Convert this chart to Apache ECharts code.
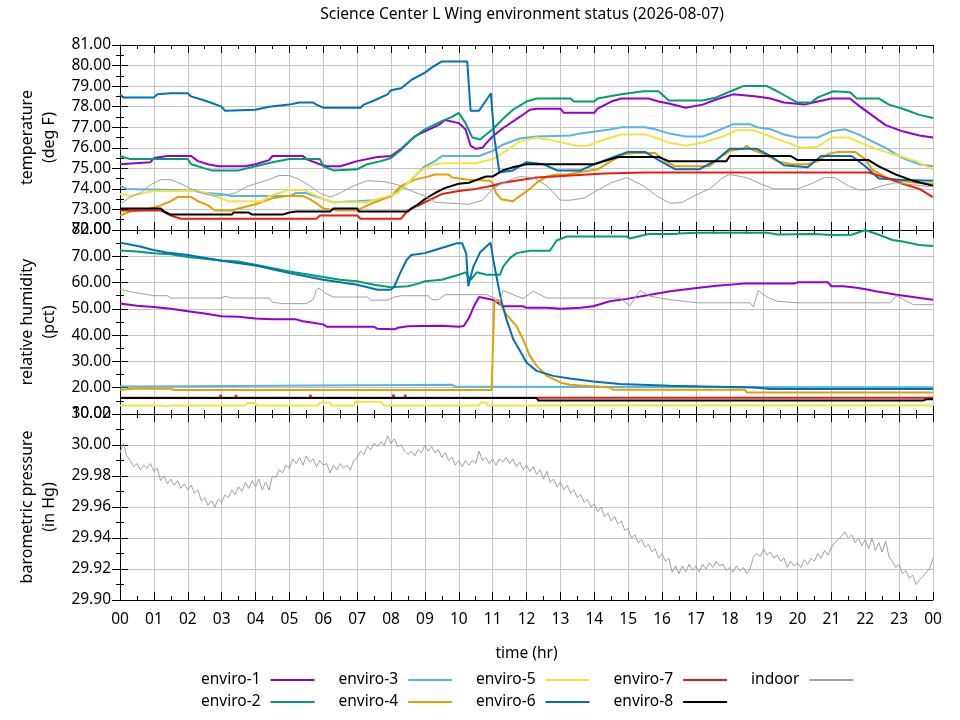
<!DOCTYPE html>
<html>
<head>
<meta charset="utf-8">
<script src="https://cdn.jsdelivr.net/npm/echarts@6/dist/echarts.min.js"></script>
<style>
  html, body { margin: 0; padding: 0; background: #fff; }
  #chart { width: 960px; height: 720px; }
</style>
</head>
<body>
<div id="chart"></div>
<script>
// sensors, in legend order
const seriesNames = ['enviro-1', 'enviro-2', 'enviro-3', 'enviro-4', 'enviro-5', 'enviro-6', 'enviro-7', 'enviro-8', 'indoor'];
const seriesColors = ['#9400d3', '#009e73', '#56b4e9', '#e69f00', '#f0e442', '#0072b2', '#e51e10', '#000000', '#a0a0a0'];

// temperature (deg F), [hour, value]
const enviro1Temp = [[0,75.2],[0.9,75.3],[1.0,75.5],[1.4,75.6],[2.1,75.6],[2.3,75.35],[2.6,75.2],[2.9,75.1],[3.7,75.1],[4.0,75.2],[4.4,75.4],[4.5,75.6],[5.4,75.6],[5.5,75.45],[5.9,75.2],[6.1,75.1],[6.5,75.1],[6.7,75.2],[7.0,75.35],[7.6,75.55],[8.0,75.6],[8.3,75.95],[8.7,76.55],[9.0,76.8],[9.4,77.1],[9.6,77.35],[10.0,77.2],[10.2,76.9],[10.35,76.1],[10.5,75.95],[10.7,76.0],[10.8,76.2],[11.0,76.55],[11.3,76.95],[11.8,77.5],[12.1,77.85],[12.3,77.9],[13.0,77.9],[13.1,77.7],[14.0,77.7],[14.1,77.9],[14.5,78.25],[14.8,78.4],[15.6,78.4],[15.9,78.25],[16.2,78.15],[16.7,77.95],[17.2,78.1],[17.6,78.35],[18.1,78.6],[18.8,78.5],[19.2,78.4],[19.6,78.2],[20.2,78.1],[20.6,78.25],[21.0,78.4],[21.55,78.4],[21.85,78.0],[22.1,77.7],[22.6,77.1],[23.1,76.8],[23.6,76.6],[24,76.5]];
const enviro2Temp = [[0,75.6],[0.3,75.45],[2.0,75.45],[2.1,75.2],[2.5,75.0],[2.7,74.9],[3.5,74.9],[4.0,75.1],[4.5,75.3],[5.0,75.45],[5.9,75.45],[6.0,75.1],[6.3,74.9],[7.0,74.95],[7.3,75.2],[7.7,75.35],[8.0,75.5],[8.3,75.9],[8.6,76.4],[9.0,76.9],[9.5,77.3],[9.8,77.5],[10.0,77.7],[10.2,77.2],[10.4,76.5],[10.63,76.4],[11.0,76.9],[11.3,77.4],[11.6,77.85],[12.0,78.25],[12.3,78.4],[13.3,78.4],[13.4,78.25],[14.0,78.25],[14.1,78.4],[14.8,78.6],[15.45,78.75],[15.9,78.75],[16.2,78.3],[17.2,78.3],[17.6,78.45],[18.1,78.8],[18.4,79.0],[19.1,79.0],[19.4,78.75],[20.0,78.2],[20.4,78.2],[20.6,78.45],[21.06,78.75],[21.55,78.7],[21.75,78.4],[22.4,78.4],[22.7,78.1],[23.1,77.9],[23.6,77.6],[24,77.45]];
const enviro3Temp = [[0,74.15],[0.2,74.0],[1.5,73.95],[2.2,73.9],[2.5,73.8],[3.0,73.75],[3.3,73.65],[5.0,73.65],[5.2,73.8],[5.5,73.8],[6.0,73.5],[6.3,73.35],[7.0,73.4],[7.5,73.45],[8.0,73.65],[8.3,74.0],[8.6,74.45],[9.0,75.1],[9.3,75.35],[9.5,75.6],[10.6,75.6],[11.0,75.85],[11.3,76.15],[11.8,76.45],[12.3,76.55],[13.3,76.6],[13.6,76.7],[14.5,76.9],[14.8,77.0],[15.5,77.0],[15.8,76.9],[16.2,76.7],[16.7,76.55],[17.2,76.55],[17.6,76.8],[18.1,77.15],[18.6,77.15],[18.8,77.0],[19.2,76.9],[19.6,76.65],[20.0,76.5],[20.6,76.5],[21.0,76.8],[21.4,76.9],[21.8,76.65],[22.1,76.4],[22.6,76.0],[23.1,75.5],[23.6,75.2],[24,75.1]];
const enviro4Temp = [[0,72.7],[0.3,72.9],[0.8,73.0],[1.2,73.2],[1.5,73.4],[1.7,73.6],[2.1,73.6],[2.3,73.4],[2.6,73.2],[2.8,72.95],[3.3,72.95],[3.5,73.05],[4.0,73.25],[4.5,73.55],[4.9,73.65],[5.4,73.65],[5.6,73.5],[5.8,73.3],[6.0,73.05],[6.4,72.95],[7.0,72.95],[7.3,73.2],[7.6,73.4],[8.0,73.65],[8.3,74.15],[8.7,74.45],[9.1,74.6],[9.3,74.7],[9.7,74.7],[9.8,74.55],[10.3,74.45],[10.9,74.4],[11.0,74.3],[11.1,73.8],[11.25,73.5],[11.6,73.4],[11.8,73.65],[12.1,74.0],[12.3,74.3],[12.6,74.6],[12.9,74.7],[13.2,74.7],[13.5,74.8],[14.1,74.95],[14.5,75.35],[14.9,75.7],[15.25,75.75],[15.8,75.75],[16.1,75.35],[16.4,75.1],[17.4,75.1],[17.7,75.5],[18.0,75.85],[18.4,75.95],[18.5,76.1],[18.6,75.95],[19.0,75.7],[19.4,75.35],[19.8,75.2],[20.3,75.2],[20.6,75.35],[20.9,75.7],[21.2,75.8],[21.7,75.8],[22.0,75.45],[22.2,74.95],[22.6,74.55],[23.0,74.4],[23.5,74.3],[24,74.25]];
const enviro5Temp = [[0,73.75],[0.3,73.65],[0.7,73.8],[1.0,73.9],[2.3,73.9],[2.5,73.8],[2.8,73.65],[3.2,73.4],[4.2,73.4],[4.4,73.65],[4.7,73.8],[5.0,73.95],[5.4,73.95],[5.7,73.75],[6.0,73.5],[6.3,73.35],[7.3,73.35],[7.5,73.45],[7.8,73.6],[8.2,73.8],[8.5,74.3],[8.8,74.8],[9.0,75.0],[9.3,75.2],[9.6,75.25],[10.5,75.25],[11.0,75.45],[11.3,75.75],[11.8,76.3],[12.3,76.5],[12.9,76.3],[13.5,76.1],[13.8,76.1],[14.3,76.4],[14.8,76.65],[15.5,76.65],[15.8,76.5],[16.2,76.25],[16.7,76.1],[17.2,76.25],[17.8,76.55],[18.2,76.85],[18.7,76.85],[19.2,76.55],[19.7,76.25],[20.1,76.0],[20.6,76.05],[21.0,76.5],[21.5,76.5],[21.85,76.25],[22.4,75.9],[23.0,75.6],[23.5,75.35],[24,74.95]];
const enviro6Temp = [[0,78.6],[0.1,78.45],[1.0,78.45],[1.1,78.6],[1.5,78.65],[2.0,78.65],[2.1,78.5],[2.5,78.3],[3.0,78.0],[3.1,77.8],[4.0,77.85],[4.4,78.0],[5.0,78.1],[5.3,78.2],[5.7,78.2],[5.8,78.1],[6.0,77.95],[7.1,77.95],[7.2,78.1],[7.5,78.3],[7.9,78.6],[8.0,78.8],[8.3,78.9],[8.6,79.3],[9.0,79.65],[9.2,79.9],[9.5,80.2],[10.25,80.2],[10.35,77.8],[10.6,77.8],[10.95,78.65],[11.05,76.5],[11.2,74.8],[11.6,74.9],[12.0,75.3],[12.5,75.2],[12.9,74.9],[13.6,74.9],[14.0,75.2],[14.5,75.5],[15.0,75.8],[15.5,75.8],[15.9,75.4],[16.4,74.95],[17.1,74.95],[17.6,75.4],[18.0,75.95],[18.8,75.95],[19.2,75.6],[19.6,75.15],[20.3,75.05],[20.7,75.6],[21.6,75.6],[22.0,75.1],[22.4,74.5],[23.0,74.45],[24,74.4]];
const enviro7Temp = [[0,72.95],[1.2,72.95],[1.5,72.7],[1.8,72.55],[5.8,72.55],[5.9,72.7],[7.0,72.7],[7.1,72.55],[8.3,72.55],[8.5,72.95],[9.0,73.35],[9.5,73.75],[10.0,73.9],[10.5,74.0],[11.0,74.15],[11.3,74.3],[12.3,74.55],[13.3,74.65],[14.3,74.75],[15.5,74.8],[22.1,74.8],[22.6,74.55],[23.1,74.25],[23.6,74.0],[24,73.6]];
const enviro8Temp = [[0,73.05],[1.2,73.05],[1.3,72.9],[1.5,72.75],[3.3,72.75],[3.35,72.85],[3.8,72.85],[3.9,72.75],[4.8,72.75],[5.0,72.85],[5.2,72.9],[6.2,72.9],[6.3,73.05],[7.0,73.05],[7.05,72.9],[8.5,72.9],[8.6,73.05],[8.8,73.25],[9.0,73.5],[9.3,73.8],[9.6,74.05],[10.0,74.25],[10.3,74.3],[10.8,74.6],[11.0,74.6],[11.3,74.9],[11.6,75.05],[12.0,75.2],[14.0,75.2],[14.3,75.35],[14.7,75.55],[15.9,75.55],[16.2,75.35],[17.9,75.35],[18.0,75.6],[19.8,75.6],[20.0,75.4],[22.1,75.4],[22.4,75.1],[22.9,74.7],[23.4,74.4],[24,74.15]];
const indoorTemp = [[0,73.25],[0.3,73.6],[0.6,73.8],[0.9,74.2],[1.2,74.45],[1.5,74.45],[1.8,74.25],[2.1,74.0],[2.4,73.8],[2.8,73.65],[3.1,73.7],[3.4,73.8],[3.8,74.15],[4.3,74.4],[4.7,74.65],[5.0,74.65],[5.3,74.45],[5.6,74.15],[5.9,73.8],[6.2,73.6],[6.5,73.8],[6.9,74.15],[7.3,74.4],[7.8,74.35],[8.2,74.2],[8.6,73.9],[9.0,73.65],[9.3,73.35],[10.3,73.25],[10.7,73.45],[11.0,74.0],[11.3,74.3],[11.8,74.6],[12.2,74.55],[12.6,74.15],[13.0,73.45],[13.3,73.45],[13.7,73.55],[14.0,73.85],[14.5,74.3],[14.96,74.55],[15.45,74.15],[15.85,73.65],[16.24,73.3],[16.6,73.35],[17.0,73.7],[17.4,74.0],[17.8,74.55],[18.0,74.7],[18.5,74.55],[18.9,74.25],[19.3,74.0],[20.0,74.0],[20.4,74.25],[20.8,74.55],[21.1,74.55],[21.5,74.15],[21.8,73.95],[22.1,73.95],[22.5,74.15],[22.9,74.3],[23.4,74.2],[24,74.1]];

// relative humidity (pct), [hour, value]
const enviro1Hum = [[0,52.0],[0.5,51.2],[1.0,50.7],[1.5,50.0],[2.0,49.1],[2.5,48.2],[3.0,47.2],[3.5,47.0],[4.0,46.3],[4.5,46.0],[5.2,46.0],[5.4,45.3],[5.6,44.9],[6.0,44.1],[6.1,43.2],[7.5,43.2],[7.6,42.4],[8.1,42.2],[8.2,42.8],[8.5,43.4],[9.5,43.6],[10.0,43.2],[10.15,43.5],[10.3,46.5],[10.45,51.0],[10.6,54.5],[11.0,53.5],[11.3,51.0],[11.9,51.0],[12.0,50.4],[12.6,50.4],[13.0,50.0],[13.6,50.4],[13.97,51.0],[14.46,52.9],[14.96,53.8],[15.65,55.4],[16.24,56.7],[17.02,57.9],[17.61,58.8],[18.4,59.6],[19.9,59.6],[20.0,60.1],[20.9,60.1],[21.0,58.6],[21.35,58.6],[21.75,58.0],[22.1,57.3],[22.3,56.7],[22.93,55.4],[23.62,54.1],[24,53.5]];
const enviro2Hum = [[0,72.2],[0.5,71.8],[1.0,71.2],[1.5,70.8],[2.0,69.7],[3.0,68.4],[3.5,68.0],[4.0,66.8],[5.0,64.2],[6.0,62.1],[6.5,61.1],[7.0,60.5],[7.5,59.2],[8.0,58.2],[8.5,58.6],[8.8,59.6],[9.0,60.5],[9.5,61.1],[10.0,63.0],[10.2,63.9],[10.35,61.0],[10.53,63.9],[10.82,63.0],[11.22,63.0],[11.31,66.1],[11.51,69.3],[11.71,71.2],[12.1,72.1],[12.69,72.1],[12.89,76.0],[13.18,77.5],[14.96,77.5],[15.05,76.8],[15.6,78.5],[16.4,78.5],[16.5,78.7],[17.0,79.0],[19.1,79.0],[19.4,78.3],[20.5,78.5],[21.0,78.1],[21.6,78.2],[22.0,80.0],[22.4,78.2],[22.8,76.2],[23.1,75.6],[23.6,74.3],[24,73.9]];
const enviro3Hum = [[0,20.5],[0.6,20.5],[0.65,21.1],[9.8,21.1],[9.9,20.4],[10.4,20.4],[24,20.2]];
const enviro4Hum = [[0,19.2],[0.5,19.7],[1.5,19.6],[1.6,19.1],[10.97,19.1],[11.05,52.3],[11.17,53.5],[11.41,47.8],[11.71,43.3],[11.9,38.4],[12.1,32.1],[12.3,28.3],[12.6,24.5],[13.0,22.0],[13.28,21.1],[14.46,20.1],[14.56,19.2],[18.45,19.2],[18.5,18.2],[24,18.2]];
const enviro5Hum = [[0,13.2],[1.2,13.2],[1.3,12.9],[1.5,13.2],[3.7,13.2],[3.75,14.2],[4.0,14.2],[4.05,13.2],[5.85,13.2],[5.9,14.4],[6.2,14.4],[6.25,13.2],[6.9,13.2],[6.95,14.7],[7.7,14.7],[7.8,13.2],[10.6,13.2],[10.65,14.4],[10.8,14.4],[10.85,13.2],[24,13.2]];
const enviro6Hum = [[0,75.2],[0.59,73.7],[0.98,72.4],[1.38,71.4],[2.0,70.5],[3.0,68.3],[4.0,66.5],[5.0,63.6],[6.0,61.1],[7.0,59.2],[7.4,57.9],[7.6,57.3],[8.0,57.3],[8.1,58.6],[8.27,63.6],[8.46,68.6],[8.6,70.5],[9.0,71.2],[9.3,72.4],[9.64,73.7],[9.95,75.0],[10.1,75.0],[10.22,71.0],[10.28,58.6],[10.43,66.0],[10.63,71.5],[10.8,73.5],[10.94,75.2],[11.02,68.7],[11.17,58.6],[11.27,52.3],[11.41,46.0],[11.51,42.2],[11.61,38.4],[11.81,34.0],[12.0,29.6],[12.3,26.4],[12.79,24.5],[13.28,23.5],[13.97,22.4],[14.76,21.4],[16.24,20.7],[18.7,20.1],[19.19,19.5],[24,19.5]];
const enviro7Hum = [[0,16.2],[2.95,16.2],[2.97,17.3],[3.0,16.2],[3.4,16.2],[3.42,17.2],[3.45,16.2],[5.6,16.2],[5.62,17.3],[5.65,16.2],[8.05,16.2],[8.07,17.4],[8.1,16.2],[8.4,16.2],[8.42,17.3],[8.45,16.2],[24,16.2]];
const enviro8Hum = [[0,16.1],[12.3,16.1],[12.35,15.1],[23.7,15.1],[23.8,15.6],[24,15.6]];
const indoorHum = [[0,57.3],[0.4,56.3],[1.0,55.0],[1.4,55.0],[1.5,54.1],[3.0,54.1],[3.1,54.8],[3.3,54.1],[4.4,54.1],[4.5,52.5],[4.8,52.0],[5.5,52.0],[5.7,53.5],[5.8,57.3],[5.88,57.9],[6.05,56.0],[6.3,54.5],[7.3,54.5],[7.4,53.3],[7.9,53.3],[8.1,54.5],[8.3,55.0],[9.1,55.0],[9.2,53.5],[9.4,53.5],[9.6,55.4],[10.82,55.4],[11.15,53.5],[11.22,52.9],[11.31,57.0],[11.6,55.4],[11.9,53.9],[12.2,56.7],[12.6,54.1],[14.76,54.1],[15.05,51.2],[15.35,57.0],[15.65,54.8],[16.24,53.5],[17.02,52.3],[18.6,52.3],[18.7,50.7],[18.84,57.0],[19.1,54.5],[19.4,52.9],[20.0,52.3],[22.73,52.3],[22.93,55.0],[23.13,53.5],[23.42,51.6],[24,51.6]];

// barometric pressure (in Hg), one reading every 0.1 hr from 00:00
const pressureStep = 0.1;
const indoorPressure = [
  29.995,30.001,29.993,29.990,29.986,29.988,29.984,29.987,29.985,29.988,
  29.983,29.985,29.977,29.980,29.975,29.978,29.974,29.977,29.972,29.975,
  29.971,29.974,29.969,29.971,29.964,29.966,29.961,29.964,29.960,29.965,
  29.963,29.968,29.966,29.971,29.968,29.973,29.970,29.976,29.972,29.977,
  29.973,29.978,29.971,29.976,29.971,29.980,29.979,29.984,29.982,29.987,
  29.985,29.991,29.988,29.992,29.987,29.993,29.989,29.991,29.986,29.990,
  29.987,29.988,29.982,29.987,29.984,29.988,29.985,29.987,29.984,29.990,
  29.992,29.996,29.994,29.999,29.997,30.001,29.999,30.002,30.000,30.006,
  30.001,30.004,29.999,30.000,29.996,29.994,29.996,29.993,29.997,29.995,
  30.000,29.996,29.999,29.995,29.997,29.992,29.995,29.990,29.992,29.987,
  29.990,29.986,29.990,29.987,29.990,29.988,29.996,29.990,29.992,29.988,
  29.991,29.987,29.991,29.989,29.992,29.988,29.991,29.986,29.989,29.984,
  29.987,29.983,29.986,29.981,29.984,29.978,29.983,29.976,29.978,29.973,
  29.976,29.971,29.974,29.969,29.971,29.966,29.968,29.963,29.965,29.960,
  29.962,29.957,29.960,29.954,29.956,29.951,29.954,29.949,29.951,29.945,
  29.946,29.940,29.942,29.937,29.939,29.934,29.936,29.931,29.933,29.927,
  29.930,29.925,29.927,29.918,29.922,29.917,29.922,29.918,29.923,29.919,
  29.922,29.918,29.923,29.920,29.924,29.921,29.925,29.922,29.923,29.919,
  29.921,29.918,29.922,29.919,29.921,29.917,29.920,29.928,29.930,29.928,
  29.933,29.929,29.931,29.927,29.929,29.925,29.927,29.921,29.925,29.922,
  29.924,29.921,29.926,29.923,29.927,29.925,29.930,29.927,29.932,29.929,
  29.934,29.937,29.939,29.941,29.944,29.940,29.942,29.937,29.940,29.935,
  29.939,29.933,29.940,29.932,29.937,29.931,29.938,29.928,29.925,29.921,
  29.923,29.917,29.919,29.914,29.916,29.910,29.913,29.915,29.918,29.920,
  29.927
];

const tempData = [enviro1Temp, enviro2Temp, enviro3Temp, enviro4Temp, enviro5Temp, enviro6Temp, enviro7Temp, enviro8Temp, indoorTemp];
const humData = [enviro1Hum, enviro2Hum, enviro3Hum, enviro4Hum, enviro5Hum, enviro6Hum, enviro7Hum, enviro8Hum, indoorHum];

const FONT = 'Noto Sans';
const FS = 15.5;
const gridLine = '#c4c4c4';

const panels = [
  { top: 45, height: 185, min: 72, max: 81, interval: 1, name: 'temperature\n(deg F)' },
  { top: 230, height: 184, min: 10, max: 80, interval: 10, name: 'relative humidity\n(pct)' },
  { top: 414, height: 186, min: 29.9, max: 30.02, interval: 0.02, name: 'barometric pressure\n(in Hg)' }
];

const tickStyle = { inside: true, length: 8, lineStyle: { color: '#000', width: 1 } };
const minorStyle = { show: true, splitNumber: 2, length: 4, lineStyle: { color: '#000', width: 1 } };

const grid = panels.map(p => ({ left: 120, right: 27, top: p.top, height: p.height }));

const xAxis = [];
const yAxis = [];
panels.forEach((p, i) => {
  const last = i === panels.length - 1;
  xAxis.push({
    type: 'value', gridIndex: i, min: 0, max: 24, interval: 1, position: 'bottom',
    axisLine: { lineStyle: { color: '#000', width: 1 } },
    axisTick: tickStyle, minorTick: minorStyle,
    splitLine: { show: true, lineStyle: { color: gridLine, width: 1 } },
    axisLabel: {
      show: last, color: '#000', fontFamily: FONT, fontSize: FS, margin: 12,
      formatter: v => String(v % 24).padStart(2, '0')
    },
    name: last ? 'time (hr)' : '', nameLocation: 'middle', nameGap: 46,
    nameTextStyle: { color: '#000', fontFamily: FONT, fontSize: FS }
  });
  yAxis.push({
    type: 'value', gridIndex: i, min: p.min, max: p.max, interval: p.interval, position: 'left',
    axisLine: { show: true, lineStyle: { color: '#000', width: 1 } },
    axisTick: tickStyle, minorTick: minorStyle,
    splitLine: { show: true, lineStyle: { color: gridLine, width: 1 } },
    axisLabel: { color: '#000', fontFamily: FONT, fontSize: FS, margin: 9, formatter: v => v.toFixed(2) },
    name: p.name, nameLocation: 'middle', nameRotate: 90, nameGap: 51,
    nameTextStyle: { color: '#000', fontFamily: FONT, fontSize: 16, lineHeight: 22 }
  });
});
// mirrored top / right axes carrying ticks only
panels.forEach((p, i) => {
  xAxis.push({
    type: 'value', gridIndex: i, min: 0, max: 24, interval: 1, position: 'top',
    axisLine: { lineStyle: { color: '#000', width: 1 } },
    axisTick: tickStyle, minorTick: minorStyle,
    splitLine: { show: false }, axisLabel: { show: false }
  });
  yAxis.push({
    type: 'value', gridIndex: i, min: p.min, max: p.max, interval: p.interval, position: 'right',
    axisLine: { show: true, lineStyle: { color: '#000', width: 1 } },
    axisTick: tickStyle, minorTick: minorStyle,
    splitLine: { show: false }, axisLabel: { show: false }
  });
});

function line(name, idx, panel, data) {
  return {
    type: 'line', name: name, xAxisIndex: panel, yAxisIndex: panel,
    data: data, showSymbol: false, symbol: 'none', animation: false,
    lineStyle: { color: seriesColors[idx], width: name === 'indoor' ? 1 : 2 },
    itemStyle: { color: seriesColors[idx] },
    z: 2 + idx
  };
}

const series = [];
seriesNames.forEach((n, k) => series.push(line(n, k, 0, tempData[k])));
seriesNames.forEach((n, k) => series.push(line(n, k, 1, humData[k])));
series.push(line('indoor', 8, 2, indoorPressure.map((v, j) => [j * pressureStep, v])));

const legendBase = {
  orient: 'horizontal', left: 196, align: 'right', icon: 'rect',
  itemWidth: 44, itemHeight: 2, itemGap: 24,
  textStyle: { color: '#000', fontFamily: FONT, fontSize: FS, padding: [0, 5, 0, 0] }
};

const chart = echarts.init(document.getElementById('chart'));
chart.setOption({
  backgroundColor: '#fff',
  animation: false,
  title: {
    text: 'Science Center L Wing environment status (2026-08-07)',
    left: 517, top: 2, textAlign: 'center',
    textStyle: { color: '#000', fontFamily: FONT, fontSize: 15.6, fontWeight: 'normal' }
  },
  legend: [
    Object.assign({}, legendBase, { top: 667, data: ['enviro-1', 'enviro-3', 'enviro-5', 'enviro-7', 'indoor'] }),
    Object.assign({}, legendBase, { top: 689, data: ['enviro-2', 'enviro-4', 'enviro-6', 'enviro-8'] })
  ],
  grid: grid,
  xAxis: xAxis,
  yAxis: yAxis,
  series: series
});
</script>
</body>
</html>
